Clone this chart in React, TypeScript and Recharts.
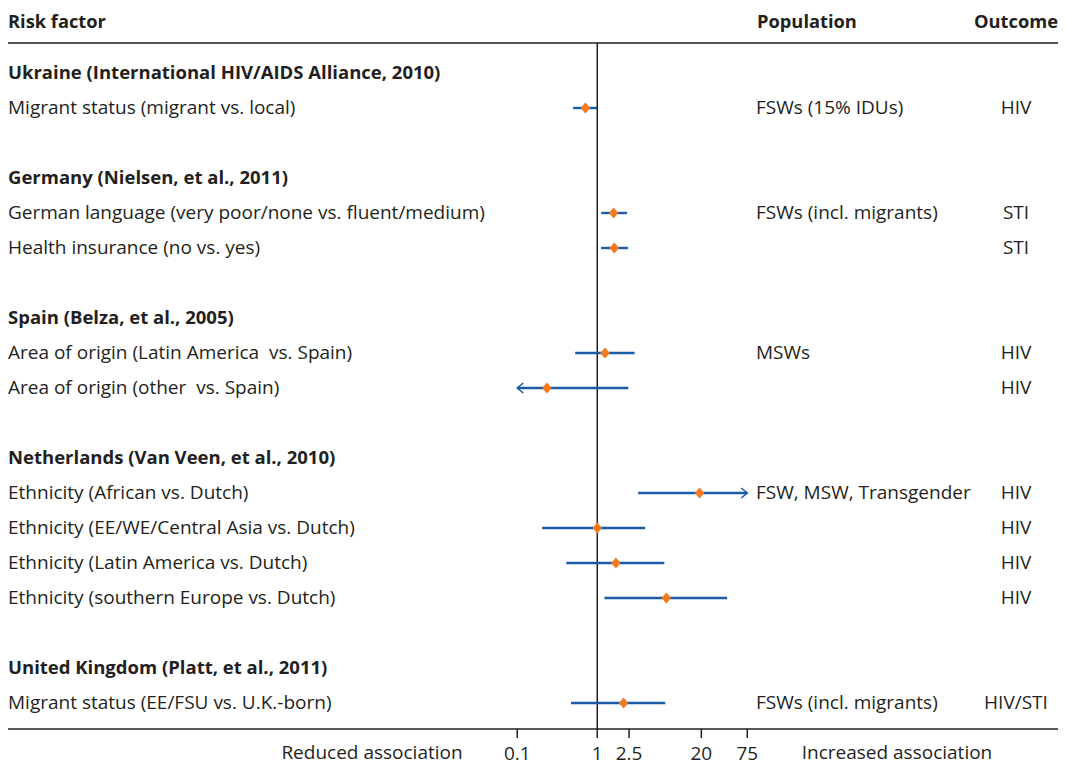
import { ScatterChart, Scatter, XAxis, YAxis, ReferenceLine } from "recharts";

// study headings and the slot (row index) each one sits on
const groupTitles = [
  "Ukraine (International HIV/AIDS Alliance, 2010)",
  "Germany (Nielsen, et al., 2011)",
  "Spain (Belza, et al., 2005)",
  "Netherlands (Van Veen, et al., 2010)",
  "United Kingdom (Platt, et al., 2011)",
];
const groupSlots = [0, 3, 7, 11, 17];

const riskFactors = [
  "Migrant status (migrant vs. local)",
  "German language (very poor/none vs. fluent/medium)",
  "Health insurance (no vs. yes)",
  "Area of origin (Latin America  vs. Spain)",
  "Area of origin (other  vs. Spain)",
  "Ethnicity (African vs. Dutch)",
  "Ethnicity (EE/WE/Central Asia vs. Dutch)",
  "Ethnicity (Latin America vs. Dutch)",
  "Ethnicity (southern Europe vs. Dutch)",
  "Migrant status (EE/FSU vs. U.K.-born)",
];
const rowSlots = [1, 4, 5, 8, 9, 12, 13, 14, 15, 18];

const oddsRatios = [0.71, 1.6, 1.63, 1.25, 0.235, 19, 1.0, 1.71, 7.3, 2.13];
const lowerCI = [0.5, 1.12, 1.12, 0.53, 0.1, 3.25, 0.205, 0.41, 1.23, 0.47];
const upperCI = [1.0, 2.35, 2.42, 2.93, 2.44, 75, 3.98, 6.88, 42, 7.08];
// CI runs past the drawn range (arrow)
const lowerOpen = [false, false, false, false, true, false, false, false, false, false];
const upperOpen = [false, false, false, false, false, true, false, false, false, false];

const populations = [
  "FSWs (15% IDUs)",
  "FSWs (incl. migrants)",
  "",
  "MSWs",
  "",
  "FSW, MSW, Transgender",
  "",
  "",
  "",
  "FSWs (incl. migrants)",
];
const outcomes = ["HIV", "STI", "STI", "HIV", "HIV", "HIV", "HIV", "HIV", "HIV", "HIV/STI"];

const xTicks = [0.1, 1, 2.5, 20, 75];

const rows = riskFactors.map((label, i) => ({
  label,
  slot: rowSlots[i],
  or: oddsRatios[i],
  lo: lowerCI[i],
  hi: upperCI[i],
  loOpen: lowerOpen[i],
  hiOpen: upperOpen[i],
  pop: populations[i],
  outcome: outcomes[i],
}));

const allSlots = [...groupSlots, ...rowSlots].sort((a, b) => a - b);

const FONT = "'Open Sans', Lato, sans-serif";
const FS = 19;
const TEXT = "#231f20";
const BLUE = "#1c5ba8";
const ORANGE = "#f47a20";

const X_DOMAIN: [number, number] = [4.31e-8, 5.74e5];
const Y_DOMAIN: [number, number] = [-0.857, 18.743];

function LeftTick(props: any) {
  const slot = props.payload.value;
  const g = groupSlots.indexOf(slot);
  const r = rowSlots.indexOf(slot);
  const label = g >= 0 ? groupTitles[g] : r >= 0 ? riskFactors[r] : "";
  return (
    <text
      x={0}
      y={props.y}
      dy="0.34em"
      fill={TEXT}
      fontSize={g >= 0 ? 18.5 : FS}
      fontFamily={FONT}
      fontWeight={g >= 0 ? 700 : 400}
      style={{ whiteSpace: "pre" }}
    >
      {label}
    </text>
  );
}

function RightTick(props: any) {
  const slot = props.payload.value;
  const r = rowSlots.indexOf(slot);
  if (r < 0) return <g />;
  return (
    <g fontSize={FS} fontFamily={FONT} fill={TEXT}>
      <text x={748} y={props.y} dy="0.34em">
        {populations[r]}
      </text>
      <text x={1008} y={props.y} dy="0.34em" textAnchor="middle">
        {outcomes[r]}
      </text>
    </g>
  );
}

function ciShape(row: (typeof rows)[number]) {
  return (p: any) => {
    const { x1, y1, x2, y2 } = p;
    const left = Math.min(x1, x2);
    const right = Math.max(x1, x2);
    return (
      <g>
        <line x1={left} y1={y1} x2={right} y2={y2} stroke={BLUE} strokeWidth={2.4} />
        {row.loOpen && (
          <path
            d={`M${left + 6},${y1 - 5} L${left},${y1} L${left + 6},${y1 + 5}`}
            fill="none"
            stroke={BLUE}
            strokeWidth={1.5}
          />
        )}
        {row.hiOpen && (
          <path
            d={`M${right - 6},${y1 - 5} L${right},${y1} L${right - 6},${y1 + 5}`}
            fill="none"
            stroke={BLUE}
            strokeWidth={1.5}
          />
        )}
      </g>
    );
  };
}

function Diamond(props: any) {
  const { cx, cy } = props;
  return (
    <polygon
      points={`${cx},${cy - 5.5} ${cx + 4.8},${cy} ${cx},${cy + 5.5} ${cx - 4.8},${cy}`}
      fill={ORANGE}
    />
  );
}

export default function App() {
  const header = { position: "absolute" as const, top: 1, fontFamily: FONT, fontWeight: 700, fontSize: 18.3, color: TEXT, lineHeight: "24px" };
  const caption = { position: "absolute" as const, top: 732, width: 300, textAlign: "center" as const, fontFamily: FONT, fontSize: FS, color: TEXT, lineHeight: "24px" };
  return (
    <div style={{ position: "relative", width: 1050, height: 759 }}>
      <ScatterChart width={1050} height={759} margin={{ top: 35, right: -1, bottom: 0, left: -1 }}>
        <XAxis
          dataKey="or"
          type="number"
          scale="log"
          domain={X_DOMAIN}
          allowDataOverflow
          ticks={xTicks}
          interval={0}
          height={38}
          tickSize={9}
          tickMargin={9}
          axisLine={{ stroke: TEXT, strokeWidth: 1.5 }}
          tickLine={{ stroke: TEXT, strokeWidth: 1.5 }}
          tick={{ fill: TEXT, fontSize: FS, fontFamily: FONT }}
        />
        <YAxis
          yAxisId="left"
          dataKey="slot"
          type="number"
          domain={Y_DOMAIN}
          allowDataOverflow
          reversed
          ticks={allSlots}
          interval={0}
          width={1}
          axisLine={false}
          tickLine={false}
          tick={(p: any) => <LeftTick {...p} />}
        />
        <YAxis
          yAxisId="right"
          orientation="right"
          type="number"
          domain={Y_DOMAIN}
          allowDataOverflow
          reversed
          ticks={rowSlots}
          interval={0}
          width={1}
          axisLine={false}
          tickLine={false}
          tick={(p: any) => <RightTick {...p} />}
        />
        <ReferenceLine yAxisId="left" y={Y_DOMAIN[0]} stroke="#555" strokeWidth={2} ifOverflow="visible" />
        <ReferenceLine yAxisId="left" x={1} stroke={TEXT} strokeWidth={1.5} />
        {rows.map((r) => (
          <ReferenceLine
            key={r.slot}
            yAxisId="left"
            segment={[
              { x: r.lo, y: r.slot },
              { x: r.hi, y: r.slot },
            ]}
            ifOverflow="visible"
            shape={ciShape(r)}
          />
        ))}
        <Scatter yAxisId="left" data={rows} dataKey="slot" shape={<Diamond />} isAnimationActive={false} />
      </ScatterChart>
      <span style={{ ...header, left: 0 }}>Risk factor</span>
      <span style={{ ...header, left: 749 }}>Population</span>
      <span style={{ ...header, right: 0 }}>Outcome</span>
      <span style={{ ...caption, left: 214 }}>Reduced association</span>
      <span style={{ ...caption, left: 739 }}>Increased association</span>
    </div>
  );
}
